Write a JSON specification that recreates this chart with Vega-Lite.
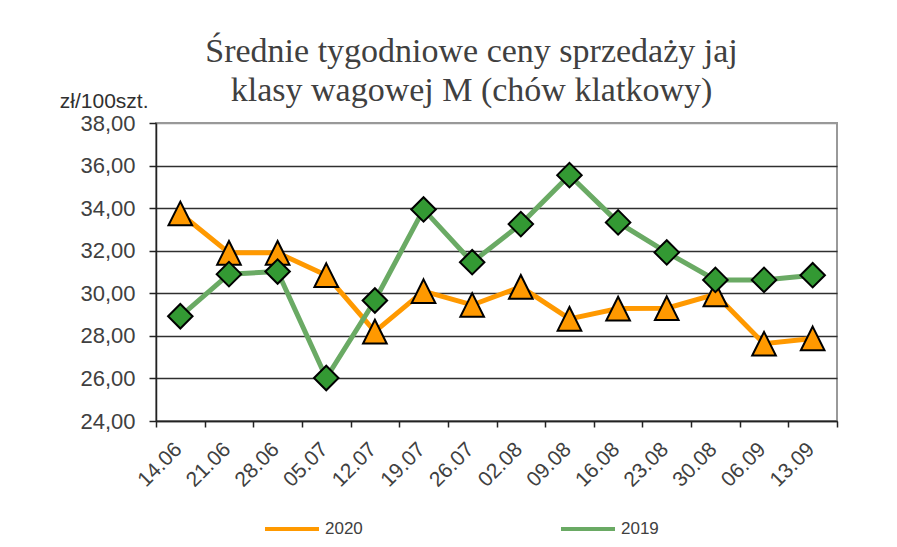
{
  "$schema": "https://vega.github.io/schema/vega-lite/v6.json",
  "width": 681,
  "height": 298,
  "autosize": {"type": "none"},
  "padding": {"left": 156, "top": 123, "right": 60, "bottom": 126},
  "background": "white",
  "title": {
    "text": ["Średnie tygodniowe ceny sprzedaży jaj", "klasy wagowej M (chów klatkowy)"],
    "font": "Liberation Serif",
    "fontSize": 34,
    "fontWeight": "normal",
    "color": "#404040",
    "lineHeight": 39,
    "anchor": "middle",
    "frame": "group",
    "dx": -25,
    "dy": 22
  },
  "data": {
    "values": [
      {"week": "14.06", "series": "2020", "value": 33.75},
      {"week": "21.06", "series": "2020", "value": 31.9},
      {"week": "28.06", "series": "2020", "value": 31.9},
      {"week": "05.07", "series": "2020", "value": 30.85},
      {"week": "12.07", "series": "2020", "value": 28.2},
      {"week": "19.07", "series": "2020", "value": 30.1},
      {"week": "26.07", "series": "2020", "value": 29.45},
      {"week": "02.08", "series": "2020", "value": 30.3},
      {"week": "09.08", "series": "2020", "value": 28.8},
      {"week": "16.08", "series": "2020", "value": 29.28},
      {"week": "23.08", "series": "2020", "value": 29.3},
      {"week": "30.08", "series": "2020", "value": 29.95},
      {"week": "06.09", "series": "2020", "value": 27.63},
      {"week": "13.09", "series": "2020", "value": 27.88},
      {"week": "14.06", "series": "2019", "value": 28.92},
      {"week": "21.06", "series": "2019", "value": 30.9},
      {"week": "28.06", "series": "2019", "value": 31.02},
      {"week": "05.07", "series": "2019", "value": 26.02},
      {"week": "12.07", "series": "2019", "value": 29.66},
      {"week": "19.07", "series": "2019", "value": 33.94},
      {"week": "26.07", "series": "2019", "value": 31.46},
      {"week": "02.08", "series": "2019", "value": 33.25},
      {"week": "09.08", "series": "2019", "value": 35.55},
      {"week": "16.08", "series": "2019", "value": 33.33},
      {"week": "23.08", "series": "2019", "value": 31.92},
      {"week": "30.08", "series": "2019", "value": 30.63},
      {"week": "06.09", "series": "2019", "value": 30.63},
      {"week": "13.09", "series": "2019", "value": 30.85}
    ]
  },
  "encoding": {
    "x": {
      "field": "week",
      "type": "nominal",
      "sort": null,
      "scale": {"type": "band", "paddingInner": 0, "paddingOuter": 0},
      "axis": {
        "title": null,
        "labelAngle": -45,
        "labelAlign": "right",
        "labelBaseline": "middle",
        "labelFont": "Liberation Sans",
        "labelFontSize": 21,
        "labelColor": "#404040",
        "labelPadding": 19,
        "labelOffset": -2,
        "tickBand": "extent",
        "tickSize": 6,
        "tickColor": "#222222",
        "tickWidth": 1.5,
        "domainColor": "#222222",
        "domainWidth": 1.5,
        "grid": false
      }
    },
    "y": {
      "field": "value",
      "type": "quantitative",
      "scale": {"domain": [24, 38], "nice": false, "zero": false},
      "axis": {
        "title": "zł/100szt.",
        "titleAngle": 0,
        "titleAlign": "right",
        "titleBaseline": "alphabetic",
        "titleX": -8,
        "titleY": -16,
        "titleFont": "Liberation Sans",
        "titleFontSize": 21,
        "titleFontWeight": "normal",
        "titleColor": "#303030",
        "values": [24, 26, 28, 30, 32, 34, 36, 38],
        "labelExpr": "replace(format(datum.value, '.2f'), '.', ',')",
        "labelFont": "Liberation Sans",
        "labelFontSize": 22,
        "labelColor": "#404040",
        "labelPadding": 14,
        "tickSize": 7,
        "tickColor": "#222222",
        "tickWidth": 1.5,
        "domainColor": "#222222",
        "domainWidth": 1.5,
        "grid": true,
        "gridColor": {"condition": {"test": "datum.value == 38", "value": "#999999"}, "value": "#303030"},
        "gridWidth": 1.5,
        "gridOpacity": 1
      }
    }
  },
  "layer": [
    {
      "transform": [{"filter": "datum.series == '2020'"}],
      "layer": [
        {
          "mark": {"type": "line", "strokeWidth": 5},
          "encoding": {
            "stroke": {
              "field": "series",
              "type": "nominal",
              "scale": {"domain": ["2020", "2019"], "range": ["#FF9900", "#6AAA64"]},
              "legend": {
                "title": null,
                "orient": "none",
                "legendX": 107,
                "legendY": 377,
                "direction": "horizontal",
                "symbolType": "stroke",
                "symbolStrokeWidth": 4,
                "symbolSize": 2916,
                "labelFont": "Liberation Sans",
                "labelFontSize": 17,
                "labelColor": "#404040",
                "labelOffset": 4,
                "columnPadding": 190
              }
            }
          }
        },
        {
          "mark": {"type": "point", "filled": true, "fill": "#FF9900", "shape": "M0,-1L1,1L-1,1Z", "stroke": "black", "strokeWidth": 2, "opacity": 1, "size": 560},
          "encoding": {}
        }
      ]
    },
    {
      "transform": [{"filter": "datum.series == '2019'"}],
      "layer": [
        {
          "mark": {"type": "line", "strokeWidth": 5},
          "encoding": {
            "stroke": {"field": "series", "type": "nominal"}
          }
        },
        {
          "mark": {"type": "point", "filled": true, "fill": "#339933", "shape": "diamond", "stroke": "black", "strokeWidth": 2, "opacity": 1, "size": 600},
          "encoding": {}
        }
      ]
    }
  ],
  "config": {
    "view": {"stroke": "#999999", "strokeWidth": 2},
    "font": "Liberation Sans"
  }
}
